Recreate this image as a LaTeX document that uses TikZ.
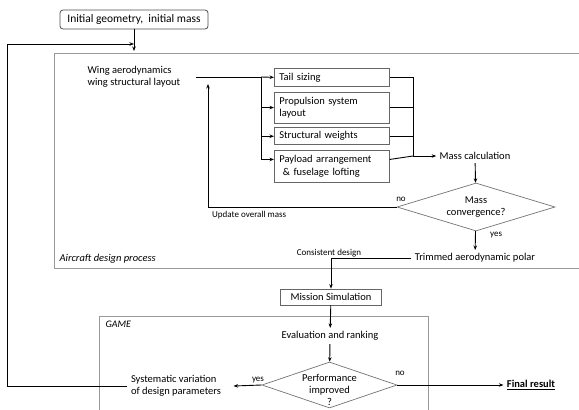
\documentclass[tikz,border=0pt]{standalone}
\usepackage{fontspec}
\setmainfont{Carlito}
\usepackage{tikz}
\usetikzlibrary{shapes,arrows.meta,positioning}

\begin{document}
\begin{tikzpicture}[x=1pt, y=-1pt, font=\fontsize{10.5}{12.5}\selectfont,
    >={Stealth[length=4.5pt,width=3.5pt]},
    subbox/.style={draw=black!60, line width=0.7pt, rectangle, text width=105pt, align=left, inner xsep=5pt, inner ysep=2pt, minimum height=18pt},
    decision/.style={draw=black!55, line width=0.7pt, diamond, align=center, inner sep=0pt},
    frame/.style={draw=black!40, line width=0.9pt},
    flow/.style={->, line width=0.9pt},
    link/.style={line width=0.9pt},
    lbl/.style={font=\fontsize{9}{10}\selectfont, inner sep=1pt}]
    \useasboundingbox (0,0) rectangle (579,410);

    % Containers
    \draw[frame] (579,53) -| (54,268) -- (579,268);
    \node[anchor=west, font=\fontsize{10.5}{12}\selectfont\itshape] (adp) at (56,259) {Aircraft design process};
    \draw[frame] (99,410) |- (428,316) -- (428,410);
    \node[anchor=west, font=\fontsize{10}{12}\selectfont\itshape] (game) at (102,324) {GAME};

    % Start and wing
    \node[draw=black!70, line width=0.8pt, rounded corners=3pt, font=\fontsize{11.5}{13}\selectfont, minimum width=148pt, minimum height=19pt] (init) at (134,19.5) {Initial geometry,\ \ initial mass};
    \coordinate (entry) at (134,51);
    \node[align=left, anchor=west] (wing) at (84,77) {Wing aerodynamics\\wing structural layout};

    % Sub-tasks
    \node[subbox, anchor=north west] (tail) at (274,68) {Tail sizing};
    \node[subbox, below=5pt of tail, minimum height=31pt] (prop) {Propulsion system\\layout};
    \node[subbox, below=4pt of prop, minimum height=17pt] (struct) {Structural weights};
    \node[subbox, below=5pt of struct, minimum height=32pt] (payload) {Payload arrangement\\\ \& fuselage lofting};
    \coordinate (lbus) at (261,77);
    \coordinate (rbus) at (413,156);

    % Mass loop
    \node (mass) at (475,156) {Mass calculation};
    \node[decision, aspect=3.3, minimum width=158pt, minimum height=48pt] (conv) at (476,207) {Mass\\convergence?};
    \node (polar) at (475,258) {Trimmed aerodynamic polar};
    \coordinate (wingin) at (208,84);
    \node[lbl] (no1) at (401,199) {no};
    \node[lbl, anchor=west] (yes1) at (489,235) {yes};
    \node[lbl, anchor=north west] (updl) at (211,210) {Update overall mass};

    % Mission and GAME
    \node[draw=black!60, line width=0.7pt, minimum width=101pt, minimum height=16pt] (mission) at (331,297) {Mission Simulation};
    \node[lbl, anchor=south] (cdl) at (329,258) {Consistent design};
    \node (eval) at (330,336) {Evaluation and ranking};
    \node[decision, minimum width=135pt, minimum height=46pt] (perf) at (329.5,385) {};
    \node[align=center, font=\fontsize{10.5}{11.8}\selectfont] (perft) at (329.5,390) {Performance\\improved\\?};
    \node[align=left] (sys) at (176,386) {Systematic variation\\of design parameters};
    \node[font=\fontsize{10.5}{12}\selectfont\bfseries] (final) at (531,385) {\underline{Final result}};
    \node[lbl] (yes2) at (258,380) {yes};
    \node[lbl] (no2) at (400,373) {no};
    \coordinate (fbcorner) at (7,44);

    % Arrows
    \draw[flow] (init) -- (entry);
    \draw[link] ([xshift=12pt]wing.east) -- (lbus);
    \draw[flow] (lbus) -- (tail.west);
    \draw[flow] (lbus) |- (prop.west);
    \draw[flow] (lbus) |- (struct.west);
    \draw[flow] (lbus) |- ([yshift=7pt]payload.west);
    \draw[link] (tail.east) -| (rbus);
    \draw[link] (prop.east) -| (rbus);
    \draw[link] (struct.east) -| (rbus);
    \draw[link] ([yshift=7pt]payload.east) -- (rbus);
    \draw[flow] (rbus) -- (mass);
    \draw[flow] (mass) -- (conv);
    \draw[flow] (conv) -- (polar);
    \draw[flow] (conv.west) -| (wingin);
    \draw[flow] (polar.west) -| (mission);
    \draw[flow] (mission) -- (eval);
    \draw[flow] (eval) -- (perf);
    \draw[flow] (perf.west) -- ([xshift=9pt]sys.east);
    \draw[flow] (perf.east) -- (final.west);
    \draw[flow] (sys.west) -| (fbcorner) -- (init.south |- fbcorner);
\end{tikzpicture}
\end{document}
